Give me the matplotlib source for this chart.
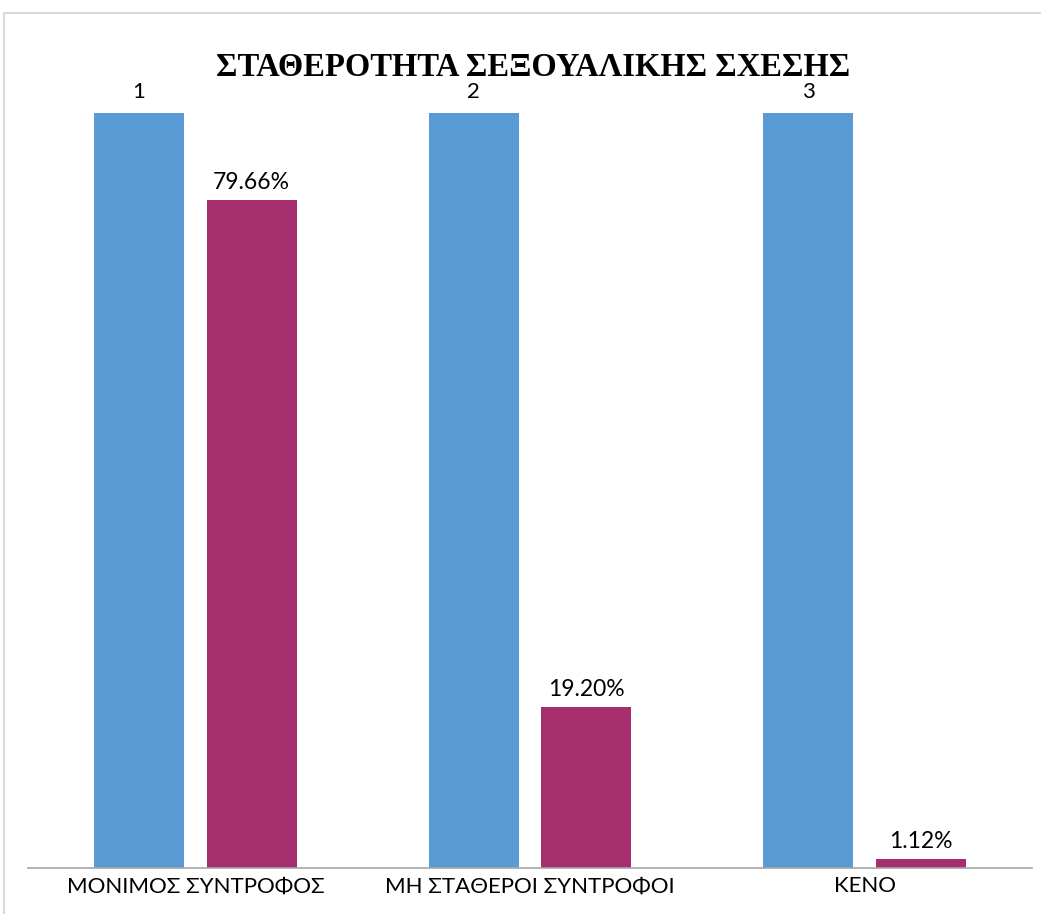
import matplotlib.pyplot as plt
from matplotlib.patches import Rectangle
import numpy as np

categories = ["ΜΟΝΙΜΟΣ ΣΥΝΤΡΟΦΟΣ", "ΜΗ ΣΤΑΘΕΡΟΙ ΣΥΝΤΡΟΦΟΙ", "ΚΕΝΟ"]
series_index = [1, 2, 3]
series_share = [0.7966, 0.1920, 0.0112]
title = "ΣΤΑΘΕΡΟΤΗΤΑ ΣΕΞΟΥΑΛΙΚΗΣ ΣΧΕΣΗΣ"

blue = "#5b9bd5"
plum = "#a62e6f"
ymax = 0.9

W, H = 1041, 914
fig = plt.figure(figsize=(W / 100, H / 100), dpi=100)

# light chart-area frame
fig.patches.append(Rectangle((4 / W, -0.05), 1.1, 1 - 13 / H + 0.05,
                             transform=fig.transFigure, fill=False,
                             edgecolor="#d9d9d9", linewidth=1.5))

ax = fig.add_axes([28 / W, (H - 868) / H, 1004 / W, (868 - 113) / H])
x = np.arange(len(categories))
bw = 0.269
off = 0.168

ax.bar(x - off, series_index, bw, color=blue)
ax.bar(x + off, series_share, bw, color=plum)

ax.set_xlim(-0.5, 2.5)
ax.set_ylim(0, ymax)

for xi, v in zip(x, series_index):
    ax.annotate(str(v), (xi - off, min(v, ymax)), xytext=(0, 8),
                textcoords="offset points", ha="center", va="bottom",
                fontsize=16, family="Lato", annotation_clip=False)
for xi, v in zip(x, series_share):
    ax.annotate(f"{v * 100:.2f}%", (xi + off, v), xytext=(0, 5),
                textcoords="offset points", ha="center", va="bottom",
                fontsize=16.5, family="Lato")

ax.set_xticks(x)
ax.set_xticklabels(categories, fontsize=16, family="Lato")
ax.tick_params(axis="x", length=0, pad=6)
ax.set_yticks([])
for s in ["top", "right", "left"]:
    ax.spines[s].set_visible(False)
ax.spines["bottom"].set_color("#a6a6a6")
ax.spines["bottom"].set_linewidth(1.2)

fig.text(533 / W, 1 - 67 / H, title, ha="center", va="center",
         fontsize=23.5, fontweight="bold", family="Liberation Serif")

fig.savefig("out.png", dpi=100)
